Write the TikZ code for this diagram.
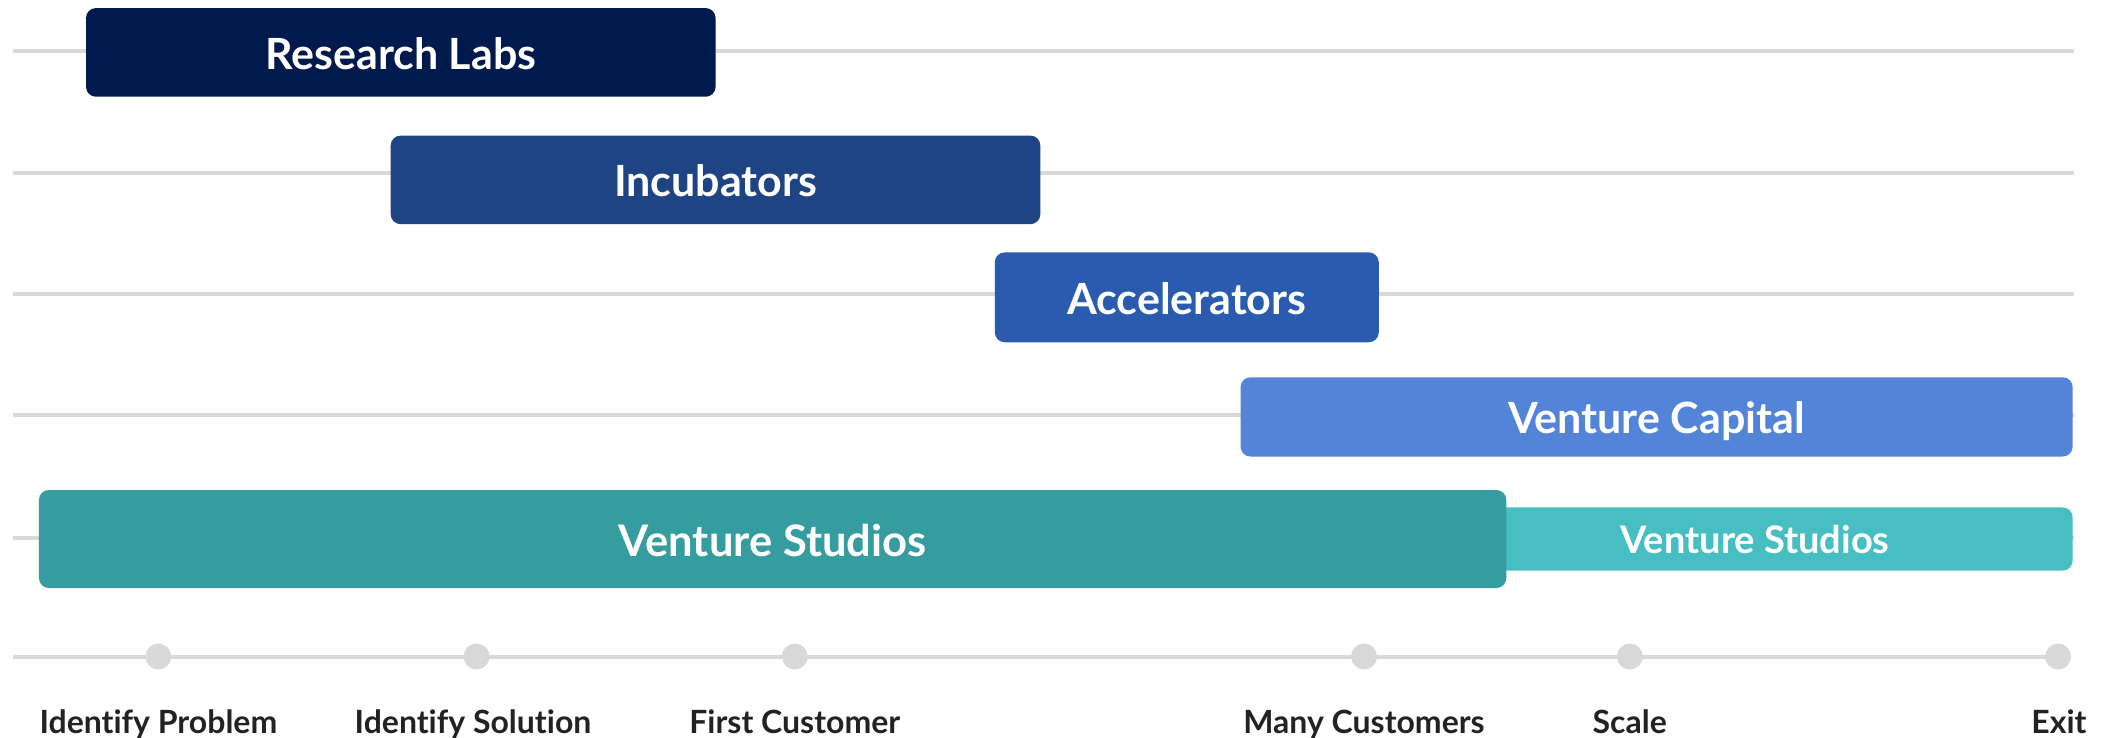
\documentclass[tikz,border=0pt]{standalone}
\usepackage{fontspec}
\setmainfont{Lato}[UprightFont=* Bold, Ligatures=NoCommon]
\definecolor{rlab}{HTML}{001A4D}
\definecolor{incb}{HTML}{1F4484}
\definecolor{accl}{HTML}{2B5BAE}
\definecolor{vcap}{HTML}{5484D8}
\definecolor{vstd}{HTML}{359C9F}
\definecolor{vstl}{HTML}{47BFC2}
\definecolor{grayline}{HTML}{D9D9D9}
\definecolor{labtext}{HTML}{222222}
\tikzset{
  bar/.style={rounded corners=10pt, inner sep=0pt, text=white, font=\fontsize{43}{48}\selectfont, text height=34pt, text depth=0pt},
  guide/.style={draw=grayline, line width=4pt},
  stage/.style={circle, fill=grayline, minimum size=26pt, inner sep=0pt},
  stagelabel/.style={text=labtext, font=\fontsize{32}{36}\selectfont, inner sep=0pt, anchor=center, text height=23pt, text depth=0pt}
}
\begin{document}
\begin{tikzpicture}[x=1pt,y=-1pt]
\useasboundingbox (0,0) rectangle (2105,738);
% guide lines
\foreach \yy in {51,173,294,415,538}{
  \draw[guide] (13,\yy) -- (2074,\yy);
}
\coordinate (tlstart) at (13,656.5);
\coordinate (tlend) at (2058,656.5);
\draw[guide] (tlstart) -- (tlend);
% bars
\node[bar, fill=rlab, minimum width=629.6pt, minimum height=88.7pt] (rl) at (400.8,52.4) {Research Labs};
\node[bar, fill=incb, minimum width=649.7pt, minimum height=88.6pt] (inc) at (715.5,179.9) {Incubators};
\node[bar, fill=accl, minimum width=384pt, minimum height=89.9pt] (acc) at (1186.8,297.3) {Accelerators};
\node[bar, fill=vcap, minimum width=832.2pt, minimum height=79.3pt] (vc) at (1656.6,416.9) {Venture Capital};
\node[bar, fill=vstl, minimum width=635.4pt, minimum height=63.1pt, font=\fontsize{38}{42}\selectfont, text height=29pt] (vss) at (1755,539) {Venture Studios};
\node[bar, fill=vstd, minimum width=1467.4pt, minimum height=98pt, font=\fontsize{43.5}{48}\selectfont] (vsb) at (772.6,539) {Venture Studios};
% stages
\node[stage] (s1) at (158.4,656.5) {};
\node[stage] (s2) at (476.6,656.5) {};
\node[stage] (s3) at (794.8,656.5) {};
\node[stage] (s4) at (1364,656.5) {};
\node[stage] (s5) at (1629.8,656.5) {};
\node[stage] (s6) at (2058.1,656.5) {};
\node[stagelabel] (l1) at (158.4,722) {Identify Problem};
\node[stagelabel] (l2) at (473,722) {Identify Solution};
\node[stagelabel] (l3) at (794.8,722) {First Customer};
\node[stagelabel] (l4) at (1364,722) {Many Customers};
\node[stagelabel] (l5) at (1629.8,722) {Scale};
\node[stagelabel] (l6) at (2059,722) {Exit};
\end{tikzpicture}
\end{document}
